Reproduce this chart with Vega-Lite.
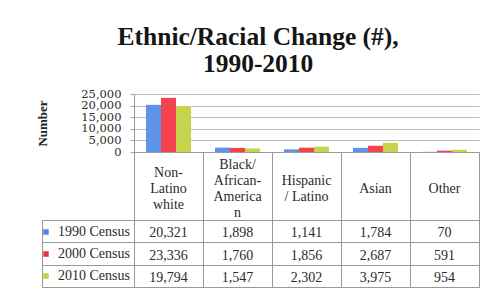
{
  "$schema": "https://vega.github.io/schema/vega-lite/v6.json",
  "background": "white",
  "padding": {"left": 36, "top": 24, "right": 0, "bottom": 0},
  "title": {
    "text": ["Ethnic/Racial Change (#),", "1990-2010"],
    "font": "Liberation Serif",
    "fontSize": 25.5,
    "fontWeight": "bold",
    "color": "#151515",
    "lineHeight": 27,
    "anchor": "middle",
    "offset": 11
  },
  "datasets": {
    "values": [
      {"category": "Non-Latino white", "series": "1990 Census", "value": 20321},
      {"category": "Non-Latino white", "series": "2000 Census", "value": 23336},
      {"category": "Non-Latino white", "series": "2010 Census", "value": 19794},
      {"category": "Black/African-American", "series": "1990 Census", "value": 1898},
      {"category": "Black/African-American", "series": "2000 Census", "value": 1760},
      {"category": "Black/African-American", "series": "2010 Census", "value": 1547},
      {"category": "Hispanic/Latino", "series": "1990 Census", "value": 1141},
      {"category": "Hispanic/Latino", "series": "2000 Census", "value": 1856},
      {"category": "Hispanic/Latino", "series": "2010 Census", "value": 2302},
      {"category": "Asian", "series": "1990 Census", "value": 1784},
      {"category": "Asian", "series": "2000 Census", "value": 2687},
      {"category": "Asian", "series": "2010 Census", "value": 3975},
      {"category": "Other", "series": "1990 Census", "value": 70},
      {"category": "Other", "series": "2000 Census", "value": 591},
      {"category": "Other", "series": "2010 Census", "value": 954}
    ],
    "cats": [
      {"category": "Non-Latino white", "header": ["Non-", "Latino", "white"]},
      {"category": "Black/African-American", "header": ["Black/", "African-", "America", "n"]},
      {"category": "Hispanic/Latino", "header": ["Hispanic", "/ Latino"]},
      {"category": "Asian", "header": ["Asian"]},
      {"category": "Other", "header": ["Other"]}
    ],
    "series": [
      {"series": "1990 Census"},
      {"series": "2000 Census"},
      {"series": "2010 Census"}
    ]
  },
  "spacing": 0,
  "bounds": "flush",
  "vconcat": [
    {
      "width": 345,
      "height": 58,
      "view": {"stroke": null},
      "data": {"name": "values"},
      "mark": {"type": "bar"},
      "encoding": {
        "x": {
          "field": "category", "type": "nominal",
          "scale": {"domain": ["Non-Latino white", "Black/African-American", "Hispanic/Latino", "Asian", "Other"], "paddingInner": 0, "paddingOuter": 0},
          "axis": {"labels": false, "ticks": false, "title": null, "grid": false, "domainColor": "#999"}
        },
        "xOffset": {
          "field": "series", "type": "nominal",
          "scale": {"domain": ["1990 Census", "2000 Census", "2010 Census"], "paddingInner": 0, "paddingOuter": 0.8}
        },
        "y": {
          "field": "value", "type": "quantitative",
          "scale": {"domain": [0, 25000], "nice": false},
          "axis": {
            "values": [0, 5000, 10000, 15000, 20000, 25000],
            "format": ",.0f",
            "title": "Number",
            "titleFont": "Liberation Serif",
            "titleFontSize": 13,
            "titleFontWeight": "bold",
            "titleColor": "#222",
            "titlePadding": 31,
            "labelFont": "DejaVu Serif",
            "labelFontSize": 11.5,
            "labelColor": "#2b2b2b",
            "labelOverlap": false,
            "labelBound": false,
            "labelPadding": 9,
            "tickSize": 4,
            "tickColor": "#aaa",
            "domainColor": "#999",
            "gridColor": "#bbb",
            "grid": true
          }
        },
        "color": {
          "field": "series", "type": "nominal",
          "scale": {"domain": ["1990 Census", "2000 Census", "2010 Census"], "range": ["#5f93e8", "#f4424e", "#c5d44c"]},
          "legend": null
        }
      }
    },
    {
      "width": 345,
      "height": 68,
      "view": {"stroke": "#999"},
      "data": {"name": "cats"},
      "mark": {"type": "text", "font": "Liberation Serif", "fontSize": 14, "lineHeight": 15.7, "baseline": "middle", "align": "center", "color": "#2b2b2b", "dy": {"expr": "3 - 7.85 * (length(datum.header) - 1)"}},
      "encoding": {
        "x": {
          "field": "category", "type": "nominal",
          "scale": {"domain": ["Non-Latino white", "Black/African-American", "Hispanic/Latino", "Asian", "Other"], "paddingInner": 0, "paddingOuter": 0},
          "axis": {"labels": false, "ticks": false, "domain": false, "title": null, "grid": true, "tickBand": "extent", "gridColor": "#999"}
        },
        "text": {"field": "header"}
      }
    },
    {
      "width": 345,
      "height": 67,
      "view": {"stroke": "#999"},
      "resolve": {"scale": {"y": "independent"}, "axis": {"y": "independent"}},
      "layer": [
        {
          "data": {"name": "values"},
          "mark": {"type": "text", "font": "Liberation Serif", "fontSize": 14, "baseline": "middle", "align": "center", "color": "#2b2b2b", "dy": 2},
          "encoding": {
            "x": {
              "field": "category", "type": "nominal",
              "scale": {"domain": ["Non-Latino white", "Black/African-American", "Hispanic/Latino", "Asian", "Other"], "paddingInner": 0, "paddingOuter": 0},
              "axis": {"labels": false, "ticks": false, "domain": false, "title": null, "grid": true, "tickBand": "extent", "gridColor": "#999"}
            },
            "y": {
              "field": "series", "type": "nominal",
              "scale": {"domain": ["1990 Census", "2000 Census", "2010 Census"], "paddingInner": 0, "paddingOuter": 0},
              "axis": {"labels": false, "ticks": true, "tickBand": "extent", "tickSize": 92, "tickColor": "#999", "domain": false, "grid": true, "gridColor": "#999", "title": null}
            },
            "text": {"field": "value", "type": "quantitative", "format": ",.0f"}
          }
        },
        {
          "data": {"name": "series"},
          "mark": {"type": "point", "filled": true, "opacity": 0, "shape": "square"},
          "encoding": {
            "y": {
              "field": "series", "type": "nominal",
              "scale": {"domain": ["1990 Census", "2000 Census", "2010 Census"], "paddingInner": 0, "paddingOuter": 0},
              "axis": {"orient": "left", "offset": 92, "labels": false, "ticks": false, "grid": false, "domain": true, "domainColor": "#999", "title": null}
            },
            "color": {
              "field": "series", "type": "nominal",
              "scale": {"domain": ["1990 Census", "2000 Census", "2010 Census"], "range": ["#4f86e6", "#e8323f", "#bcd43c"]},
              "legend": {
                "orient": "none",
                "legendX": -95,
                "legendY": 5,
                "title": null,
                "padding": 0,
                "symbolType": "square",
                "symbolSize": 30,
                "symbolOpacity": 1,
                "symbolStrokeWidth": 0,
                "labelFont": "Liberation Serif",
                "labelFontSize": 14,
                "labelColor": "#2b2b2b",
                "labelOffset": 5,
                "rowPadding": 8
              }
            }
          }
        }
      ]
    }
  ],
  "resolve": {"scale": {"color": "independent"}, "legend": {"color": "independent"}}
}
